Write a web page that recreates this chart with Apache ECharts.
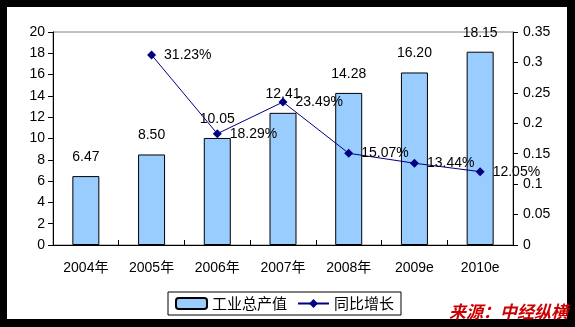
<!DOCTYPE html>
<html><head><meta charset="utf-8">
<script src="https://cdn.jsdelivr.net/npm/echarts@6/dist/echarts.min.js"></script>
<style>html,body{margin:0;padding:0;background:#000;}#c{width:575px;height:327px;}</style>
</head><body><div id="c"></div>
<script>
const categories = ['2004年','2005年','2006年','2007年','2008年','2009e','2010e'];
const outputValues = [6.47, 8.50, 10.05, 12.41, 14.28, 16.20, 18.15];
const growthValues = [null, 0.3123, 0.1829, 0.2349, 0.1507, 0.1344, 0.1205];
const seriesNames = ['工业总产值','同比增长'];
const sourceText = '来源：中经纵横';

const FONT = "'Liberation Sans', 'Noto Sans CJK SC', sans-serif";
const chart = echarts.init(document.getElementById('c'), null, {renderer:'canvas'});
chart.setOption({
  backgroundColor:'#000',
  animation:false,
  textStyle:{fontFamily:FONT},
  graphic:[
    {type:'rect', z:-10, shape:{x:7,y:7,width:560,height:312}, style:{fill:'#fff'}},
    {type:'text', right:7, top:303, z:10, style:{text:sourceText, fill:'#CC0000', font:"italic bold 17px 'Noto Sans CJK SC', sans-serif", shadowColor:'rgba(80,0,0,0.6)', shadowOffsetX:1, shadowOffsetY:1, shadowBlur:0}}
  ],
  grid:{left:53, right:62, top:32, bottom:82, show:true, borderColor:'#808080', borderWidth:1, backgroundColor:'#fff'},
  legend:{
    left:168, top:292,
    padding:[4,7,4,7], itemGap:10,
    borderColor:'#000', borderWidth:1, borderRadius:0,
    itemWidth:31, itemHeight:11,
    textStyle:{fontSize:15, color:'#000', fontFamily:"'Noto Sans CJK SC', sans-serif"},
    data:[{name:seriesNames[0]},{name:seriesNames[1]}]
  },
  xAxis:{
    type:'category', data:categories,
    axisLine:{lineStyle:{color:'#000'}},
    axisTick:{show:true, inside:true, length:5, alignWithLabel:false, lineStyle:{color:'#000'}},
    axisLabel:{color:'#000', fontSize:14, margin:16, interval:0},
    splitLine:{show:false}
  },
  yAxis:[
    {type:'value', min:0, max:20, interval:2, position:'left',
     axisLine:{show:true, lineStyle:{color:'#000'}},
     axisTick:{show:true, length:5, lineStyle:{color:'#000'}},
     axisLabel:{color:'#000', fontSize:14, margin:8},
     splitLine:{show:false}},
    {type:'value', min:0, max:0.35, interval:0.05, position:'right',
     axisLine:{show:true, lineStyle:{color:'#000'}},
     axisTick:{show:true, length:5, lineStyle:{color:'#000'}},
     axisLabel:{color:'#000', fontSize:14, margin:10, formatter:v=>String(Math.round(v*100)/100)},
     splitLine:{show:false}}
  ],
  series:[
    {name:seriesNames[0], type:'bar', data:outputValues, yAxisIndex:0, barWidth:27,
     itemStyle:{color:'#99CCFF', borderColor:'#000', borderWidth:1},
     label:{show:true, position:'top', distance:12, color:'#000', fontSize:14, formatter:p=>p.value.toFixed(2)}},
    {name:seriesNames[1], type:'line', data:growthValues, yAxisIndex:1, connectNulls:false,
     symbol:'diamond', symbolSize:9, z:5,
     lineStyle:{color:'#000080', width:1}, itemStyle:{color:'#000080'},
     label:{show:true, position:'right', distance:8, color:'#000', fontSize:14, formatter:p=>(p.value*100).toFixed(2)+'%'}}
  ]
});
</script></body></html>
